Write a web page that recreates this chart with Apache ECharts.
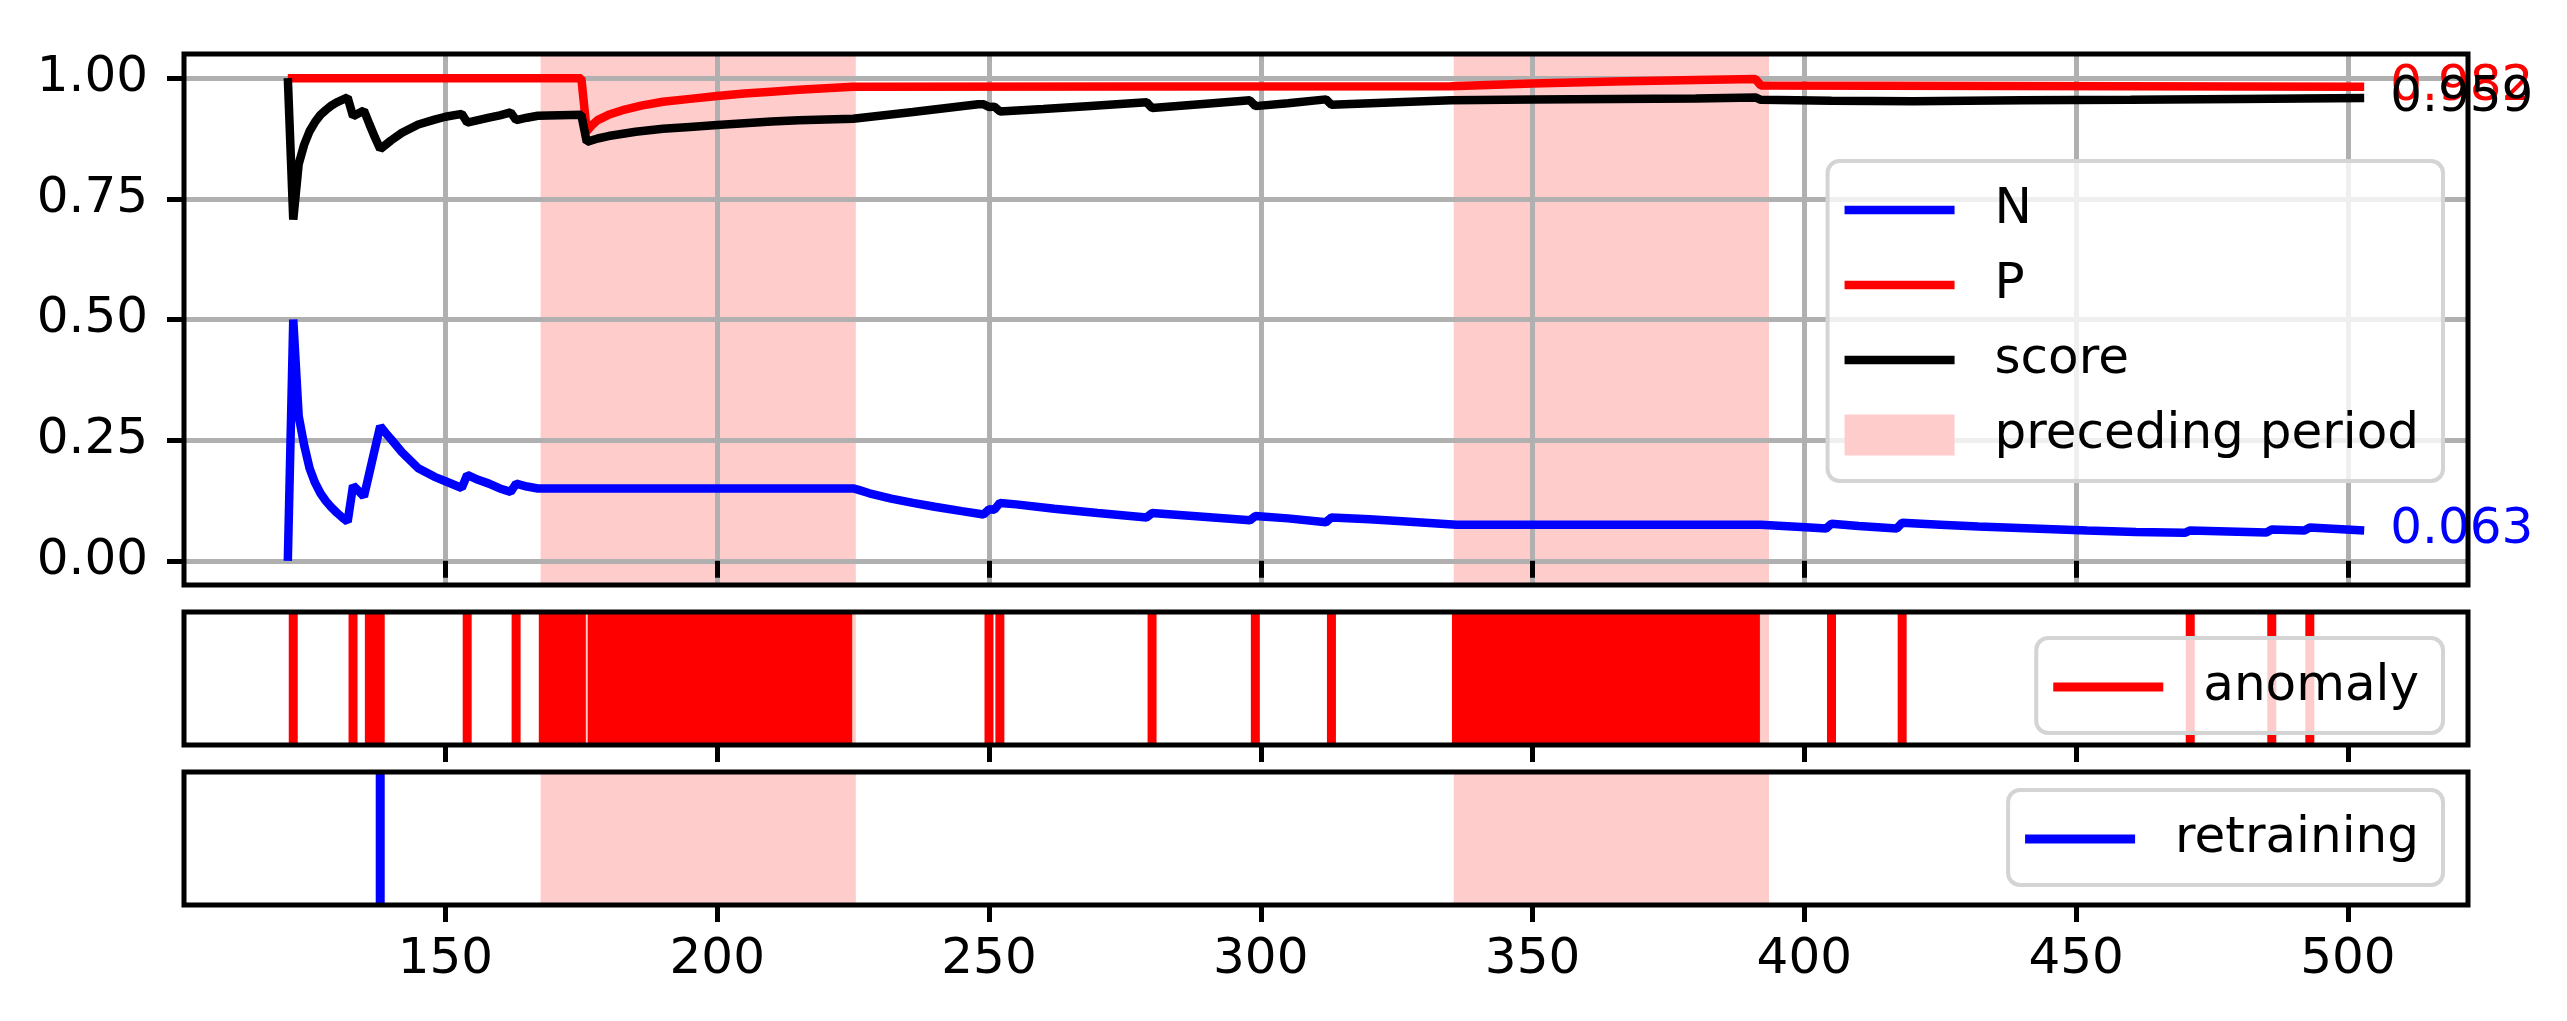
<!DOCTYPE html>
<html>
<head>
<meta charset="utf-8">
<title>N / P / score</title>
<script src="https://cdn.jsdelivr.net/npm/echarts@6.0.0/dist/echarts.min.js"></script>
<style>
  html, body { margin: 0; padding: 0; background: #fff; }
  #chart { width: 2567px; height: 1021px; }
</style>
</head>
<body>
<div id="chart"></div>
<script>
// x range shared by the three panels
var xMin = 101.9, xMax = 522.1;
var xTicks = [150, 200, 250, 300, 350, 400, 450, 500];
var yTicks = [0, 0.25, 0.5, 0.75, 1.0];

// N (blue)
var nX = [121, 122, 123, 124, 125, 126, 127, 128, 129, 130, 131, 132, 133, 134, 135, 136, 137, 138,
          139, 140, 142, 145, 148, 150, 153, 154, 156, 158, 160, 162, 163, 165, 167, 225, 226, 228,
          232, 236, 240, 245, 249, 250, 251, 252, 255, 262, 270, 279, 280, 290, 298, 299, 305, 312,
          313, 320, 326, 336, 392, 401, 404, 405, 410, 417, 418, 425, 432, 442, 452, 461, 470, 471,
          478, 485, 486, 492, 493, 498, 503];
var nVal = [0.000, 0.500, 0.300, 0.240, 0.192, 0.162, 0.140, 0.124, 0.111, 0.100, 0.090, 0.081, 0.156, 0.145, 0.133, 0.182, 0.231, 0.279,
            0.265, 0.252, 0.225, 0.192, 0.174, 0.165, 0.151, 0.178, 0.168, 0.160, 0.150, 0.143, 0.160, 0.154, 0.150, 0.150, 0.147, 0.140,
            0.129, 0.120, 0.112, 0.103, 0.096, 0.107, 0.106, 0.120, 0.117, 0.108, 0.099, 0.090, 0.099, 0.091, 0.084, 0.093, 0.088, 0.080,
            0.090, 0.086, 0.082, 0.075, 0.075, 0.069, 0.067, 0.077, 0.072, 0.067, 0.079, 0.075, 0.071, 0.067, 0.063, 0.060, 0.058, 0.063,
            0.061, 0.059, 0.065, 0.063, 0.069, 0.066, 0.063];

// P (red)
var pX = [121, 175, 176, 177, 178, 180, 183, 186, 190, 195, 200, 205, 210, 215, 220, 225, 335, 350, 365, 380, 391, 392, 503];
var pVal = [1.000, 1.000, 0.890, 0.903, 0.913, 0.924, 0.935, 0.943, 0.951, 0.957, 0.963, 0.968, 0.972, 0.976, 0.979, 0.982,
            0.983, 0.989, 0.993, 0.996, 0.998, 0.985, 0.982];

// score (black)
var sX = [121, 122, 123, 124, 125, 126, 127, 128, 129, 130, 131, 132, 133, 135, 136, 137, 138, 140, 142, 145, 148, 150, 153,
          154, 156, 158, 160, 162, 163, 165, 167, 175, 176, 178, 180, 185, 190, 195, 200, 210, 215, 225, 236, 248, 249, 250,
          251, 252, 260, 268, 279, 280, 290, 298, 299, 305, 312, 313, 325, 335, 350, 380, 391, 392, 405, 420, 440, 460, 480, 503];
var sVal = [1.000, 0.707, 0.822, 0.862, 0.890, 0.909, 0.924, 0.934, 0.943, 0.950, 0.955, 0.960, 0.921, 0.933, 0.905, 0.878, 0.853, 0.871, 0.887, 0.904, 0.914, 0.920, 0.926,
            0.908, 0.913, 0.918, 0.923, 0.929, 0.913, 0.918, 0.922, 0.924, 0.868, 0.875, 0.880, 0.889, 0.895, 0.899, 0.903, 0.910, 0.913, 0.916, 0.930, 0.946, 0.946, 0.940,
            0.941, 0.931, 0.936, 0.942, 0.950, 0.938, 0.947, 0.954, 0.942, 0.948, 0.956, 0.945, 0.950, 0.954, 0.956, 0.958, 0.960, 0.955, 0.953, 0.952, 0.954, 0.955, 0.957, 0.959];

// preceding periods (start, end)
var periodStart = [167.5, 335.5];
var periodEnd = [225.5, 393.5];

// anomaly flags and retraining points
var anomalies = [122, 133, 136, 137, 138, 154, 163,
  168, 169, 170, 171, 172, 173, 174, 175,
  177, 178, 179, 180, 181, 182, 183, 184, 185, 186, 187, 188, 189, 190, 191, 192, 193, 194, 195, 196, 197, 198, 199, 200,
  201, 202, 203, 204, 205, 206, 207, 208, 209, 210, 211, 212, 213, 214, 215, 216, 217, 218, 219, 220, 221, 222, 223, 224,
  250, 252, 280, 299, 313,
  336, 337, 338, 339, 340, 341, 342, 343, 344, 345, 346, 347, 348, 349, 350, 351, 352, 353, 354, 355, 356, 357, 358, 359, 360,
  361, 362, 363, 364, 365, 366, 367, 368, 369, 370, 371, 372, 373, 374, 375, 376, 377, 378, 379, 380, 381, 382, 383, 384, 385,
  386, 387, 388, 389, 390, 391,
  405, 418, 471, 486, 493];
var retraining = [138];

var FONT = 'DejaVu Sans';
var PINK = '#ffcccc';
var GRIDC = '#b0b0b0';
var BLUE = '#0000ff', RED = '#ff0000', BLACK = '#000000';

function zip(xs, ys) {
  return xs.map(function (x, i) { return [x, ys[i]]; });
}
function vlines(xs) {
  var out = [];
  xs.forEach(function (x) { out.push([x, 0], [x, 1], [x, null]); });
  return out;
}
function periods() {
  return periodStart.map(function (s, i) { return [s, periodEnd[i]]; });
}

function shadeItem(params, api) {
  var x0 = api.coord([api.value(0), 0])[0];
  var x1 = api.coord([api.value(1), 0])[0];
  var cs = params.coordSys;
  return {
    type: 'rect',
    shape: { x: x0, y: cs.y, width: x1 - x0, height: cs.height },
    style: { fill: PINK }
  };
}

function xAxisFor(idx, labels, grid) {
  return {
    type: 'value', gridIndex: idx, min: xMin, max: xMax, splitNumber: 8, z: 3,
    axisLine: { show: false },
    axisTick: { show: true, length: 17, customValues: xTicks, lineStyle: { color: '#000', width: 5 } },
    axisLabel: { show: labels, customValues: xTicks, margin: 30, fontFamily: FONT, fontSize: 50, color: '#000' },
    splitLine: { show: grid, lineStyle: { color: GRIDC, width: 5 } }
  };
}

function hiddenY(idx) {
  return {
    type: 'value', gridIndex: idx, min: 0, max: 1,
    axisLine: { show: false }, axisTick: { show: false }, axisLabel: { show: false }, splitLine: { show: false }
  };
}

function curve(name, xs, ys, color) {
  return {
    name: name, type: 'line', xAxisIndex: 0, yAxisIndex: 0, z: 5,
    data: zip(xs, ys), symbol: 'none', color: color,
    lineStyle: { color: color, width: 8.5 },
    endLabel: {
      show: true, distance: 26, fontFamily: FONT, fontSize: 50, color: color,
      formatter: function (p) { return p.value[1].toFixed(3); }
    }
  };
}

// legend handle: a plain bar, like a line sample
function handle(name, color, thick) {
  return {
    name: name,
    icon: 'path://M0,0H110V' + thick + 'H0Z',
    itemStyle: { color: color, borderWidth: 0 }
  };
}

function legendAt(top, items) {
  return {
    orient: 'vertical', right: 124, top: top, z: 10,
    data: items,
    itemWidth: 110, itemHeight: 41, itemGap: 25,
    padding: [24, 24, 21, 17],
    backgroundColor: 'rgba(255,255,255,0.8)',
    borderColor: '#d4d4d4', borderWidth: 4, borderRadius: 12,
    textStyle: { fontFamily: FONT, fontSize: 50, color: '#000', padding: [0, 0, 0, 35] },
    selectedMode: false
  };
}

var chart = echarts.init(document.getElementById('chart'));

var option = {
  animation: false,
  backgroundColor: '#fff',
  grid: [
    { left: 184, top: 54, width: 2284, height: 531, show: true, borderColor: '#000', borderWidth: 5, z: 6 },
    { left: 184, top: 612, width: 2284, height: 133, show: true, borderColor: '#000', borderWidth: 5, z: 6 },
    { left: 184, top: 772, width: 2284, height: 133, show: true, borderColor: '#000', borderWidth: 5, z: 6 }
  ],
  xAxis: [xAxisFor(0, false, true), xAxisFor(1, false, false), xAxisFor(2, true, false)],
  yAxis: [
    {
      type: 'value', gridIndex: 0, min: -0.05, max: 1.05, z: 3,
      axisLine: { show: false },
      axisTick: { show: true, length: 17, customValues: yTicks, lineStyle: { color: '#000', width: 5 } },
      axisLabel: {
        customValues: yTicks, margin: 36, fontFamily: FONT, fontSize: 50, color: '#000',
        formatter: function (v) { return v.toFixed(2); }
      },
      splitLine: { show: true, lineStyle: { color: GRIDC, width: 5 } }
    },
    hiddenY(1),
    hiddenY(2)
  ],
  legend: [
    legendAt(161, [handle('N', BLUE, 8.5), handle('P', RED, 8.5), handle('score', BLACK, 8.5),
                   { name: 'preceding period', icon: 'rect', itemStyle: { color: PINK, borderWidth: 0 } }]),
    legendAt(638, [handle('anomaly', RED, 9)]),
    legendAt(790, [handle('retraining', BLUE, 9)])
  ],
  series: [
    {
      name: 'preceding period', type: 'custom', xAxisIndex: 0, yAxisIndex: 0, z: 1,
      data: periods(), renderItem: shadeItem, itemStyle: { color: PINK }, silent: true
    },
    curve('N', nX, nVal, BLUE),
    curve('P', pX, pVal, RED),
    curve('score', sX, sVal, BLACK),
    {
      type: 'custom', xAxisIndex: 1, yAxisIndex: 1, z: 1,
      data: periods(), renderItem: shadeItem, itemStyle: { color: PINK }, silent: true
    },
    {
      name: 'anomaly', type: 'line', xAxisIndex: 1, yAxisIndex: 1, z: 5,
      data: vlines(anomalies), symbol: 'none', color: RED,
      lineStyle: { color: RED, width: 9 }
    },
    {
      type: 'custom', xAxisIndex: 2, yAxisIndex: 2, z: 1,
      data: periods(), renderItem: shadeItem, itemStyle: { color: PINK }, silent: true
    },
    {
      name: 'retraining', type: 'line', xAxisIndex: 2, yAxisIndex: 2, z: 5,
      data: vlines(retraining), symbol: 'none', color: BLUE,
      lineStyle: { color: BLUE, width: 9 }
    }
  ]
};

chart.setOption(option);
</script>
</body>
</html>
